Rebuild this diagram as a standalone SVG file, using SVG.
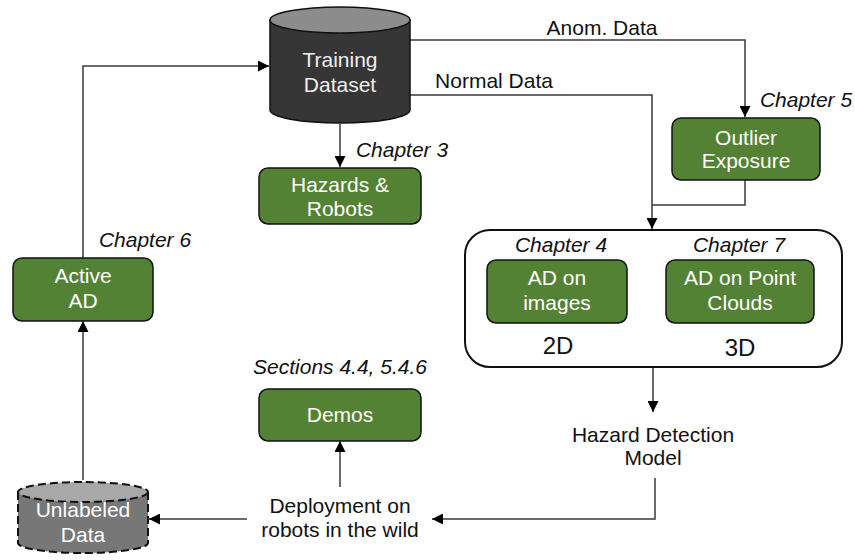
<svg xmlns="http://www.w3.org/2000/svg" width="855" height="560" viewBox="0 0 855 560">
<defs>
<marker id="arr" viewBox="0 0 10 10" refX="10" refY="5" markerWidth="11" markerHeight="11" markerUnits="userSpaceOnUse" orient="auto">
<path d="M0,0 L10,5 L0,10 z" fill="#000"/>
</marker>
<style>
text{font-family:"Liberation Sans",Arial,Helvetica,sans-serif;font-size:21px;text-anchor:middle;fill:#111}
.w{fill:#fff}
.it{font-style:italic}
.big{font-size:24px}
.box{fill:#548235;stroke:#111;stroke-width:1.5}
.ln{fill:none;stroke:#3a3a3a;stroke-width:1.5}
.ar{marker-end:url(#arr)}
</style>
</defs>
<rect width="855" height="560" fill="#fff"/>

<g id="connectors">
<path class="ln ar" d="M83,258 V66 H269"/>
<path class="ln ar" d="M83,480 V321"/>
<path class="ln ar" d="M410,40 H745 V117"/>
<path class="ln ar" d="M410,95 H652 V229"/>
<path class="ln" d="M745,180 V205 H652"/>
<path class="ln ar" d="M340,124 V167"/>
<path class="ln ar" d="M653,367 V412"/>
<path class="ln ar" d="M655,478 V519 H432"/>
<path class="ln ar" d="M247,519 H149"/>
<path class="ln ar" d="M340,487 V441"/>
<text x="602" y="35">Anom. Data</text>
<text x="494" y="88">Normal Data</text>
</g>

<g id="training-dataset">
<path d="M270,20 V110 A70,13 0 0 0 410,110 V20 Z" fill="#363636" stroke="#111" stroke-width="1.5"/>
<ellipse cx="340" cy="20" rx="70" ry="13" fill="#8c8c8c" stroke="#111" stroke-width="1.5"/>
<text class="w" x="340" y="67" style="fill:#eee">Training</text>
<text class="w" x="340" y="92" style="fill:#eee">Dataset</text>
</g>

<g id="hazards-robots">
<text class="it" x="402" y="157">Chapter 3</text>
<rect class="box" x="259" y="168" width="162" height="56" rx="9"/>
<text class="w" x="340" y="192">Hazards &amp;</text>
<text class="w" x="340" y="216">Robots</text>
</g>

<g id="outlier-exposure">
<text class="it" x="806" y="107">Chapter 5</text>
<rect class="box" x="672" y="118" width="148" height="62" rx="9"/>
<text class="w" x="746" y="145">Outlier</text>
<text class="w" x="746" y="168">Exposure</text>
</g>

<g id="ad-container">
<rect x="465" y="230" width="377" height="137" rx="25" fill="#fff" stroke="#111" stroke-width="2"/>
<text class="big" x="558" y="354">2D</text>
<text class="big" x="740" y="356">3D</text>
</g>

<g id="ad-images">
<text class="it" x="561" y="252">Chapter 4</text>
<rect class="box" x="487" y="260" width="140" height="63" rx="9"/>
<text class="w" x="557" y="285">AD on</text>
<text class="w" x="557" y="310">images</text>
</g>

<g id="ad-point-clouds">
<text class="it" x="739" y="252">Chapter 7</text>
<rect class="box" x="666" y="260" width="148" height="63" rx="9"/>
<text class="w" x="740" y="285">AD on Point</text>
<text class="w" x="740" y="310">Clouds</text>
</g>

<g id="active-ad">
<text class="it" x="145" y="247">Chapter 6</text>
<rect class="box" x="13" y="258" width="140" height="63" rx="9"/>
<text class="w" x="83" y="283">Active</text>
<text class="w" x="83" y="308">AD</text>
</g>

<g id="demos">
<text class="it" x="340" y="374">Sections 4.4, 5.4.6</text>
<rect class="box" x="259" y="389" width="162" height="52" rx="9"/>
<text class="w" x="340" y="422">Demos</text>
</g>

<g id="hazard-detection-model">
<text x="653" y="442">Hazard Detection</text>
<text x="653" y="465">Model</text>
</g>

<g id="deployment">
<text x="340" y="513">Deployment on</text>
<text x="340" y="537">robots in the wild</text>
</g>

<g id="unlabeled-data">
<path d="M18,492 V543 A65,10 0 0 0 148,543 V492 Z" fill="#777" stroke="#111" stroke-width="2" stroke-dasharray="8,4"/>
<ellipse cx="83" cy="492" rx="65" ry="10" fill="#a8a8a8" stroke="#111" stroke-width="2" stroke-dasharray="8,4"/>
<text class="w" x="83" y="517">Unlabeled</text>
<text class="w" x="83" y="542">Data</text>
</g>
</svg>
